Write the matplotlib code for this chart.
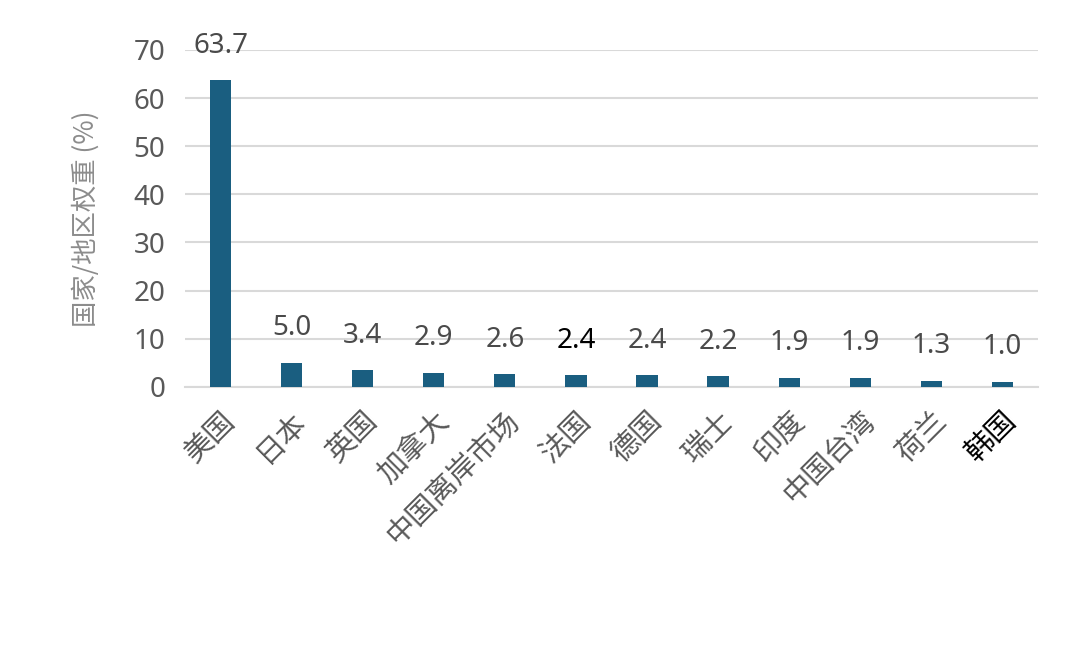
import matplotlib
matplotlib.use("Agg")
import matplotlib.pyplot as plt

plt.rcParams['font.family'] = ['Noto Sans', 'Noto Sans CJK SC', 'DejaVu Sans']
cjk = ['Noto Sans CJK SC', 'DejaVu Sans']

categories = ["美国", "日本", "英国", "加拿大", "中国离岸市场", "法国", "德国", "瑞士", "印度", "中国台湾", "荷兰", "韩国"]
weights = [63.7, 5.0, 3.4, 2.9, 2.6, 2.4, 2.4, 2.2, 1.9, 1.9, 1.3, 1.0]
black_values = {5}
black_labels = {11}

bar_color = "#1a5e80"
text_gray = "#4a4a4a"

fig = plt.figure(figsize=(10.88, 6.48), dpi=100)
ax = fig.add_axes([0.17, 0.403, 0.784, 0.52])

x = range(len(categories))
ax.bar(x, weights, width=0.3, color=bar_color, zorder=3)
for i, v in enumerate(weights):
    ax.text(i, v + 4.3, f"{v:.1f}", ha="center", va="bottom", fontsize=20,
            color="black" if i in black_values else text_gray)

ax.set_ylim(0, 70)
ax.set_xlim(-0.5, len(categories) - 0.5)
ax.set_yticks(range(0, 71, 10))
ax.grid(axis="y", color="#d9d9d9", lw=1.5, zorder=0)
ax.tick_params(axis="y", length=0, labelsize=20, labelcolor="#595959", pad=14)
ax.tick_params(axis="x", length=0, pad=14)
ax.set_xticks(list(x))
ax.set_xticklabels(categories, rotation=45, ha="right", rotation_mode="anchor", fontsize=21, family=cjk)
for i, lab in enumerate(ax.get_xticklabels()):
    lab.set_color("black" if i in black_labels else "#595959")
for sp in ["top", "right", "left"]:
    ax.spines[sp].set_visible(False)
ax.spines["bottom"].set_color("#d9d9d9")
ax.spines["bottom"].set_linewidth(1.5)
ax.set_ylabel("国家/地区权重 (%)", fontsize=19, color="#8c8c8c", labelpad=0, family=cjk)
ax.yaxis.set_label_coords(-0.1, 0.5)

fig.savefig("out.png", dpi=100)
